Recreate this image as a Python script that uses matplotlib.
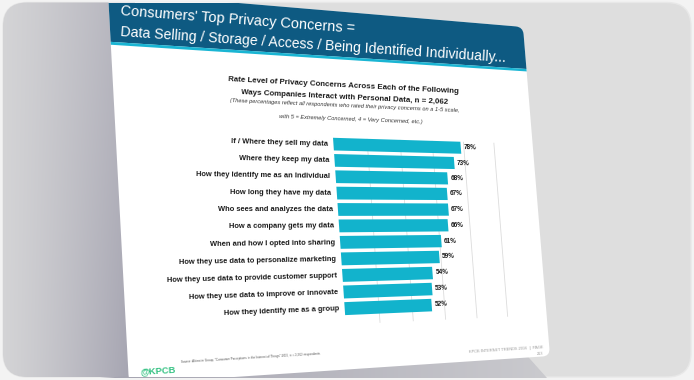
import math
import numpy as np
import matplotlib
matplotlib.use("Agg")
import matplotlib.pyplot as plt
from matplotlib import transforms as mtransforms, font_manager
from matplotlib.patches import FancyBboxPatch, Polygon, Rectangle
from matplotlib.colors import to_rgb

# ---------------- data ----------------
categories = [
    "If / Where they sell my data",
    "Where they keep my data",
    "How they Identify me as an Individual",
    "How long they have my data",
    "Who sees and analyzes the data",
    "How a company gets my data",
    "When and how I opted into sharing",
    "How they use data to personalize marketing",
    "How they use data to provide customer support",
    "How they use data to improve or innovate",
    "How they identify me as a group",
]
values = [78, 73, 68, 67, 67, 66, 61, 59, 54, 53, 52]
grid_ticks = [20, 40, 60, 80, 100]

header_lines = ["Consumers' Top Privacy Concerns =",
                "Data Selling / Storage / Access / Being Identified Individually..."]
title_lines = ["Rate Level of Privacy Concerns Across Each of the Following",
               "Ways Companies Interact with Personal Data, n = 2,062"]
note_lines = ["(These percentages reflect all respondents who rated their privacy concerns on a 1-5 scale,",
              "with 5 = Extremely Concerned, 4 = Very Concerned, etc.)"]
source_text = ("Source: Altimeter Group, \u201cConsumer Perceptions in the Internet of Things\u201d "
               "2015, n = 2,062 respondents")
footer_right = "KPCB INTERNET TRENDS 2016  |  PAGE"
page_no = "213"
logo_text = "@KPCB"

FW, FH = 694, 380

names = {f.name for f in font_manager.fontManager.ttflist}
if "Liberation Sans Narrow" in names:
    FAM, K = "Liberation Sans Narrow", 1.0
else:
    FAM, K = "Liberation Sans", 0.84


# ---------------- perspective helpers ----------------
def solve_h(src, dst):
    A, b = [], []
    for (x, y), (u, v) in zip(src, dst):
        A.append([x, y, 1, 0, 0, 0, -u * x, -u * y]); b.append(u)
        A.append([0, 0, 0, x, y, 1, -v * x, -v * y]); b.append(v)
    h = np.linalg.solve(np.array(A, float), np.array(b, float))
    return np.append(h, 1.0).reshape(3, 3)


class Homography(mtransforms.Transform):
    input_dims = 2
    output_dims = 2
    has_inverse = True

    def __init__(self, M):
        super().__init__()
        self.M = np.asarray(M, float)

    def transform_non_affine(self, values):
        v = np.asarray(values, float)
        one = v.ndim == 1
        v = np.atleast_2d(v)
        P = np.column_stack([v, np.ones(len(v))]) @ self.M.T
        out = P[:, :2] / P[:, 2:3]
        return out[0] if one else out

    def inverted(self):
        return Homography(np.linalg.inv(self.M))


flat_corners = [(110, -8), (540, -8), (540, 389), (110, 389)]
warp_corners = [(108, -8), (523, 27), (550, 356), (129, 384)]
H_img = solve_h(flat_corners, warp_corners)
Wimg = Homography(H_img)
Dm = np.array([[1, 0, 0], [0, -1, FH], [0, 0, 1]], float)
Wd = Homography(Dm @ H_img @ Dm)


def warp_img(p):
    return Wimg.transform(np.array([p], float))[0]


def flat_img(p):
    return Wimg.inverted().transform(np.array([p], float))[0]


def rot_img(xw, yw):
    q = flat_img((xw, yw))
    a = warp_img(q)
    b = warp_img(q + np.array([8.0, 0.0]))
    return -math.degrees(math.atan2(b[1] - a[1], b[0] - a[0]))


# ---------------- figure & background ----------------
fig = plt.figure(figsize=(FW / 100, FH / 100), dpi=100)
fig.patch.set_facecolor("#f3f3f3")
bg = fig.add_axes([0, 0, 1, 1])
bg.set_xlim(0, FW)
bg.set_ylim(FH, 0)
bg.axis("off")

frame = FancyBboxPatch((3, 2.5), 688, 374.5, boxstyle="round,pad=0,rounding_size=24",
                       fc="#dedede", ec="#e8e8e8", lw=1.0, zorder=0)
bg.add_artist(frame)
frame.set_clip_on(False)

# left gradient
nx, ny = 140, 100
xs = np.linspace(0, 1, nx)
ys = np.linspace(0, 1, ny)
t = np.clip(xs[None, :] ** 1.2 * (0.72 + 0.28 * ys[:, None]), 0, 1)
c0 = np.array(to_rgb("#d4d4d6"))
c1 = np.array(to_rgb("#a4a3b0"))
grad = c0[None, None, :] * (1 - t[..., None]) + c1[None, None, :] * t[..., None]
im = bg.imshow(grad, extent=(0, 135, FH, 0), aspect="auto", zorder=1, interpolation="bilinear")
im.set_clip_path(frame)

# bottom shadow
xs2 = np.linspace(0, 1, 200)
c2 = np.array(to_rgb("#cacace"))
sh = c1[None, None, :] * (1 - xs2[None, :, None]) + c2[None, None, :] * xs2[None, :, None]
sh = np.repeat(sh, 2, axis=0)
shadow_poly = Polygon([(100, 378), (522, 350), (547, 378)], closed=True, fc="none", ec="none")
bg.add_artist(shadow_poly)
im2 = bg.imshow(sh, extent=(100, 548, FH, 340), aspect="auto", zorder=1.5, interpolation="bilinear")
im2.set_clip_path(shadow_poly)
bg.set_xlim(0, FW)
bg.set_ylim(FH, 0)

# slide
TW = Wimg + bg.transData
slide = FancyBboxPatch((110, -8), 430, 397, boxstyle="round,pad=0,rounding_size=9",
                       fc="white", ec="none", zorder=2, transform=TW)
bg.add_artist(slide)
slide.set_clip_path(frame)

clipbox = mtransforms.TransformedBbox(mtransforms.Bbox([[0, 2.5], [FW, 377]]), bg.transData)
y_hb = 0.5 * (flat_img((112, 42))[1] + flat_img((520, 68.5))[1])
header = Rectangle((90, -40), 480, y_hb + 40, fc="#0e5a82", ec="none", zorder=3, transform=TW)
bg.add_artist(header)
header.set_clip_path(slide)
header.set_clip_box(clipbox)
stripe = Rectangle((90, y_hb), 480, 3.0, fc="#1ab5d3", ec="none", zorder=3, transform=TW)
bg.add_artist(stripe)
stripe.set_clip_path(slide)


def wtext(xw, yw, s, size, **kw):
    kw.setdefault("family", FAM)
    return bg.text(xw, yw, s, rotation=rot_img(xw, yw), rotation_mode="anchor",
                   fontsize=size, zorder=6, **kw)


wtext(120, 15.5, header_lines[0], 12.4 * K, color="white", ha="left", va="baseline")
wtext(120, 36.5, header_lines[1], 12.0 * K, color="white", ha="left", va="baseline")

wtext(343, 87, title_lines[0], 6.75 * K, color="#1a1a1a", weight="bold", ha="center", va="baseline")
wtext(345, 98.5, title_lines[1], 6.75 * K, color="#1a1a1a", weight="bold", ha="center", va="baseline")
wtext(345, 107.5, note_lines[0], 4.8 * K, color="#333333", style="italic", ha="center", va="baseline")
wtext(351, 120.5, note_lines[1], 4.8 * K, color="#333333", style="italic", ha="center", va="baseline")

wtext(140, 374, logo_text, 8.0 * K, color="#35c283", weight="bold", ha="left", va="baseline")
wtext(181, 363.5, source_text, 2.6 * K, color="#555555", ha="left", va="baseline")
wtext(543, 348.5, footer_right, 3.3 * K, color="#9a9a9a", ha="right", va="baseline")
wtext(543, 355, page_no, 3.3 * K, color="#9a9a9a", ha="right", va="baseline")

# ---------------- bar chart (flat axes, warped by homography) ----------------
anchors = {"TL": (333, 137.5), "BL": (345, 313), "TR": (493, 143), "BR": (508, 310)}
fa = {k: flat_img(v) for k, v in anchors.items()}
left = 0.5 * (fa["TL"][0] + fa["BL"][0])
right = 0.5 * (fa["TR"][0] + fa["BR"][0])
top = 0.5 * (fa["TL"][1] + fa["TR"][1])
bottom = 0.5 * (fa["BL"][1] + fa["BR"][1])
ax = fig.add_axes([left / FW, (FH - bottom) / FH, (right - left) / FW, (bottom - top) / FH])
n = len(values)
bar_h = 0.78
ax.set_xlim(0, 100)
ax.set_ylim(n - 1 + bar_h / 2, -bar_h / 2)
ax.axis("off")
Td = ax.transData + Wd

ypos = np.arange(n)
bars = ax.barh(ypos, values, height=bar_h, color="#12b3cc", linewidth=0, zorder=3)
for p in bars:
    p.set_transform(Td)
    p.set_clip_on(False)

gl = ax.vlines(grid_ticks, -bar_h / 2, n - 1 + 0.95, colors="#dcdcdc", linewidth=0.6, zorder=0.5)
gl.set_transform(Td)
gl.set_clip_on(False)


def rot_d(x, y):
    pd = ax.transData.transform((x, y))
    a = Wd.transform(np.array([pd]))[0]
    b = Wd.transform(np.array([pd + np.array([8.0, 0.0])]))[0]
    return math.degrees(math.atan2(b[1] - a[1], b[0] - a[0]))


for i, (c, v) in enumerate(zip(categories, values)):
    ax.text(-3, i, c, transform=Td, ha="right", va="center", fontsize=6.4 * K,
            weight="bold", color="#1a1a1a", family=FAM, rotation=rot_d(-3, i),
            rotation_mode="anchor", clip_on=False, zorder=4)
    ax.text(v + 1.8, i, f"{v}%", transform=Td, ha="left", va="center", fontsize=5.6 * K,
            weight="bold", color="#1a1a1a", family=FAM, rotation=rot_d(v + 1.8, i),
            rotation_mode="anchor", clip_on=False, zorder=4)

fig.savefig("out.png", dpi=100, facecolor=fig.get_facecolor())
